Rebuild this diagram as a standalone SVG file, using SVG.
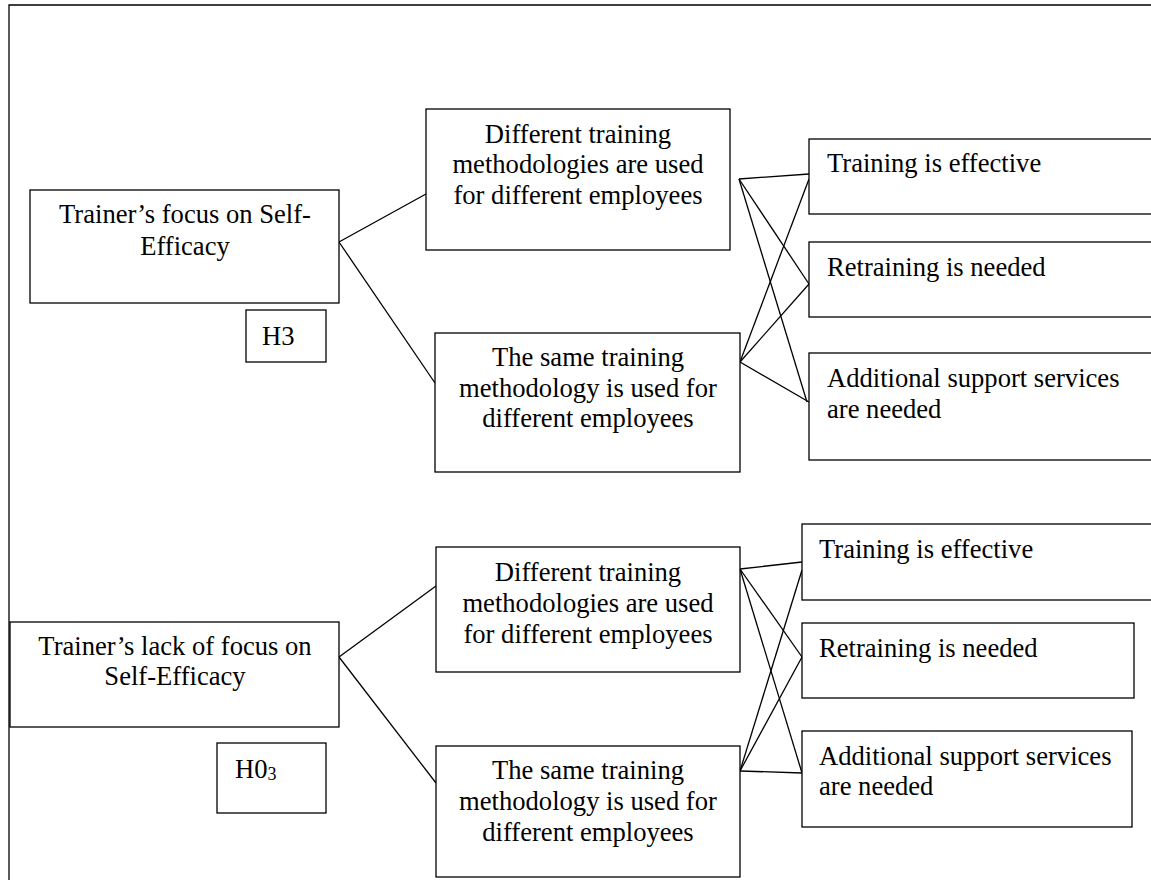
<svg xmlns="http://www.w3.org/2000/svg" width="1151" height="880" viewBox="0 0 1151 880">
<style>
.b{fill:#fff;stroke:#000;stroke-width:1.3}
.t{font-family:"Liberation Serif","Times New Roman",serif;font-size:26.6px;fill:#000}
.c{text-anchor:middle}
.l{stroke:#000;stroke-width:1.3;fill:none}
</style>
<rect width="1151" height="880" fill="#fff"/>
<polyline class="l" points="9,880 9,5 1151,5"/>
<g id="connectors">
<line class="l" x1="339" y1="242" x2="435" y2="189"/>
<line class="l" x1="339" y1="242" x2="435" y2="383"/>
<line class="l" x1="739" y1="179" x2="809" y2="174"/>
<line class="l" x1="739" y1="179" x2="809" y2="284"/>
<line class="l" x1="739" y1="179" x2="807" y2="402"/>
<line class="l" x1="740" y1="362" x2="809" y2="179"/>
<line class="l" x1="740" y1="362" x2="809" y2="284"/>
<line class="l" x1="740" y1="362" x2="809" y2="402"/>
<line class="l" x1="339" y1="657" x2="436" y2="586"/>
<line class="l" x1="339" y1="657" x2="436" y2="783"/>
<line class="l" x1="740" y1="569" x2="802" y2="562"/>
<line class="l" x1="740" y1="569" x2="802" y2="657"/>
<line class="l" x1="740" y1="569" x2="802" y2="773"/>
<line class="l" x1="740" y1="771" x2="802" y2="570"/>
<line class="l" x1="740" y1="771" x2="802" y2="657"/>
<line class="l" x1="740" y1="771" x2="802" y2="773"/>
</g>
<g id="focus">
<rect class="b" x="30" y="190" width="309" height="113"/>
<text class="t c" x="185" y="223">Trainer’s focus on Self-</text>
<text class="t c" x="185" y="255">Efficacy</text>
</g>
<g id="h3">
<rect class="b" x="246" y="310" width="80" height="52"/>
<text class="t" x="262" y="345">H3</text>
</g>
<g id="diff-top">
<rect class="b" x="426" y="109" width="304" height="141"/>
<text class="t c" x="578" y="143">Different training</text>
<text class="t c" x="578" y="173">methodologies are used</text>
<text class="t c" x="578" y="204">for different employees</text>
</g>
<g id="same-top">
<rect class="b" x="435" y="333" width="305" height="139"/>
<text class="t c" x="588" y="366">The same training</text>
<text class="t c" x="588" y="397">methodology is used for</text>
<text class="t c" x="588" y="427">different employees</text>
</g>
<g id="effective-top">
<rect class="b" x="809" y="139" width="360" height="75"/>
<text class="t" x="827" y="172">Training is effective</text>
</g>
<g id="retrain-top">
<rect class="b" x="809" y="242" width="360" height="75"/>
<text class="t" x="827" y="276">Retraining is needed</text>
</g>
<g id="support-top">
<rect class="b" x="809" y="353" width="360" height="107"/>
<text class="t" x="827" y="387">Additional support services</text>
<text class="t" x="827" y="418">are needed</text>
</g>
<g id="lack">
<rect class="b" x="10" y="622" width="329" height="105"/>
<text class="t c" x="175" y="655">Trainer’s lack of focus on</text>
<text class="t c" x="175" y="685">Self-Efficacy</text>
</g>
<g id="h03">
<rect class="b" x="217" y="743" width="109" height="70"/>
<text class="t" x="235" y="778">H0<tspan font-size="18" dy="2">3</tspan></text>
</g>
<g id="diff-bottom">
<rect class="b" x="436" y="547" width="304" height="125"/>
<text class="t c" x="588" y="581">Different training</text>
<text class="t c" x="588" y="612">methodologies are used</text>
<text class="t c" x="588" y="643">for different employees</text>
</g>
<g id="same-bottom">
<rect class="b" x="436" y="746" width="304" height="131"/>
<text class="t c" x="588" y="779">The same training</text>
<text class="t c" x="588" y="810">methodology is used for</text>
<text class="t c" x="588" y="841">different employees</text>
</g>
<g id="effective-bottom">
<rect class="b" x="802" y="524" width="360" height="76"/>
<text class="t" x="819" y="558">Training is effective</text>
</g>
<g id="retrain-bottom">
<rect class="b" x="802" y="623" width="332" height="75"/>
<text class="t" x="819" y="657">Retraining is needed</text>
</g>
<g id="support-bottom">
<rect class="b" x="802" y="731" width="330" height="96"/>
<text class="t" x="819" y="765">Additional support services</text>
<text class="t" x="819" y="795">are needed</text>
</g>
</svg>
